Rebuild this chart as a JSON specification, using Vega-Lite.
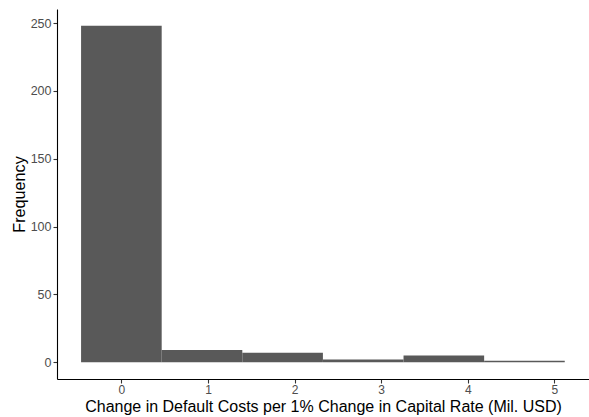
{
  "$schema": "https://vega.github.io/schema/vega-lite/v6.json",
  "width": 532,
  "height": 370,
  "autosize": {"type": "none"},
  "padding": {"left": 57, "top": 9, "right": 0, "bottom": 38},
  "background": "white",
  "config": {
    "view": {"stroke": null},
    "font": "Liberation Sans"
  },
  "data": {
    "values": [
      {"bin_start": -0.466, "bin_end": 0.465, "count": 248},
      {"bin_start": 0.465, "bin_end": 1.396, "count": 9},
      {"bin_start": 1.396, "bin_end": 2.327, "count": 7},
      {"bin_start": 2.327, "bin_end": 3.258, "count": 2},
      {"bin_start": 3.258, "bin_end": 4.189, "count": 5},
      {"bin_start": 4.189, "bin_end": 5.12, "count": 1}
    ]
  },
  "mark": {"type": "rect", "fill": "#595959", "stroke": null},
  "encoding": {
    "x": {
      "field": "bin_start",
      "type": "quantitative",
      "scale": {"domain": [-0.744, 5.40], "nice": false, "zero": false},
      "axis": {
        "title": "Change in Default Costs per 1% Change in Capital Rate (Mil. USD)",
        "values": [0, 1, 2, 3, 4, 5],
        "grid": false,
        "domainColor": "#000000",
        "domainWidth": 1.1,
        "tickColor": "#333333",
        "tickSize": 4,
        "tickWidth": 1.1,
        "labelColor": "#4D4D4D",
        "labelFontSize": 12,
        "labelPadding": 1,
        "titleFontSize": 16,
        "titleFontWeight": "normal",
        "titleColor": "#000000",
        "titlePadding": 3
      }
    },
    "x2": {"field": "bin_end"},
    "y": {
      "field": "count",
      "type": "quantitative",
      "scale": {"domain": [-12.4, 260.4], "nice": false, "zero": false},
      "axis": {
        "title": "Frequency",
        "values": [0, 50, 100, 150, 200, 250],
        "grid": false,
        "domainColor": "#000000",
        "domainWidth": 1.1,
        "tickColor": "#333333",
        "tickSize": 4,
        "tickWidth": 1.1,
        "labelColor": "#4D4D4D",
        "labelFontSize": 12.5,
        "labelPadding": 2,
        "titleFontSize": 16.2,
        "titleFontWeight": "normal",
        "titleColor": "#000000",
        "titlePadding": 3
      }
    },
    "y2": {"datum": 0}
  }
}
